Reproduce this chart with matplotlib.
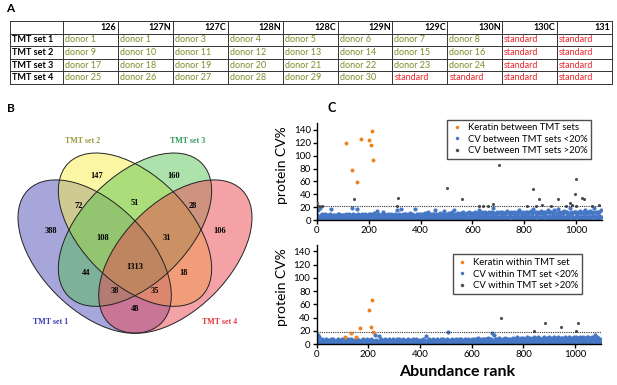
import numpy as np
import matplotlib.pyplot as plt
from matplotlib.patches import Ellipse
from matplotlib.lines import Line2D

plt.rcParams['font.family'] = ['Lato', 'DejaVu Sans']

# ---- panel A: TMT layout table ----
channels = ['126', '127N', '127C', '128N', '128C', '129N', '129C', '130N', '130C', '131']
tmt_sets = ['TMT set 1', 'TMT set 2', 'TMT set 3', 'TMT set 4']
samples = [
    ['donor 1', 'donor 1', 'donor 3', 'donor 4', 'donor 5', 'donor 6', 'donor 7', 'donor 8', 'standard', 'standard'],
    ['donor 9', 'donor 10', 'donor 11', 'donor 12', 'donor 13', 'donor 14', 'donor 15', 'donor 16', 'standard', 'standard'],
    ['donor 17', 'donor 18', 'donor 19', 'donor 20', 'donor 21', 'donor 22', 'donor 23', 'donor 24', 'standard', 'standard'],
    ['donor 25', 'donor 26', 'donor 27', 'donor 28', 'donor 29', 'donor 30', 'standard', 'standard', 'standard', 'standard'],
]

# ---- panel B: Venn counts ----
venn_counts = [147, 160, 72, 51, 28, 388, 108, 31, 106, 1313, 44, 18, 38, 35, 48]
venn_pos = [(0.359, 0.769), (0.645, 0.769), (0.292, 0.658), (0.5, 0.669), (0.716, 0.658),
            (0.188, 0.565), (0.381, 0.539), (0.619, 0.539), (0.816, 0.565), (0.5, 0.431),
            (0.318, 0.409), (0.682, 0.409), (0.426, 0.342), (0.574, 0.342), (0.5, 0.275)]

# ---- panel C / D: CV vs abundance rank ----
blue_step = 5
c_blue_low = [
    3, 1, 4, 2, 5, 2, 3, 1, 4, 2,  2, 4, 1, 3, 5, 2, 4, 3, 1, 2,
    4, 2, 3, 1, 2, 5, 3, 2, 4, 1,  3, 5, 2, 4, 1, 3, 2, 4, 3, 5,
    2, 3, 1, 4, 2, 5, 3, 1, 4, 2,  5, 2, 3, 4, 1, 3, 5, 2, 4, 3,
    1, 4, 2, 5, 3, 2, 4, 1, 3, 5,  2, 3, 5, 1, 4, 2, 3, 5, 2, 4,
    3, 1, 4, 2, 5, 3, 2, 4, 1, 3,  4, 2, 5, 3, 1, 4, 2, 5, 3, 2,
    2, 5, 3, 1, 4, 3, 5, 2, 4, 1,  3, 4, 2, 5, 3, 1, 4, 2, 5, 3,
    5, 2, 4, 3, 6, 2, 4, 5, 3, 2,  4, 3, 5, 2, 4, 6, 3, 5, 2, 4,
    3, 5, 2, 6, 4, 3, 5, 2, 4, 6,  5, 3, 4, 2, 6, 5, 3, 4, 6, 3,
    4, 6, 3, 5, 2, 4, 6, 3, 5, 4,  6, 3, 5, 4, 2, 6, 4, 5, 3, 6,
    3, 5, 6, 2, 4, 5, 3, 6, 4, 2,  5, 4, 2, 6, 3, 5, 6, 4, 2, 5,
    4, 6, 3, 5, 4, 2, 6, 5, 3, 4,  6, 3, 5, 4, 6, 3, 5, 2, 6, 4,
]
c_blue_high = [
    8, 15, 18, 7, 10, 6, 9, 8, 7, 8,  9, 17, 7, 8, 6, 7, 9, 10, 7, 8,
    8, 7, 9, 6, 8, 10, 7, 18, 9, 8,  7, 17, 9, 8, 7, 10, 7, 9, 8, 8,
    9, 8, 10, 7, 11, 8, 14, 9, 7, 8,  10, 13, 9, 8, 7, 9, 8, 10, 8, 7,
    9, 8, 16, 10, 7, 17, 9, 8, 10, 9,  8, 9, 11, 10, 7, 8, 17, 9, 8, 9,
    10, 8, 9, 11, 8, 10, 12, 9, 8, 10,  9, 16, 10, 8, 9, 11, 9, 10, 14, 8,
    10, 9, 11, 8, 12, 9, 16, 10, 8, 11,  9, 11, 10, 12, 10, 9, 11, 13, 10, 9,
    11, 10, 12, 9, 11, 15, 10, 12, 11, 10,  12, 10, 11, 13, 10, 12, 18, 11, 10, 12,
    11, 12, 10, 13, 11, 10, 12, 14, 11, 10,  12, 11, 13, 10, 12, 11, 15, 12, 10, 13,
    11, 13, 12, 10, 12, 14, 11, 17, 12, 11,  13, 11, 12, 14, 11, 12, 10, 13, 15, 12,
    12, 13, 11, 15, 12, 10, 17, 12, 11, 13,  11, 14, 12, 13, 10, 18, 12, 11, 13, 12,
    13, 11, 12, 14, 11, 13, 12, 16, 11, 13,  12, 14, 11, 13, 18, 12, 11, 13, 12, 15,
]
c_grey_rank = [0, 8, 18, 142, 310, 314, 501, 559, 625, 640, 660, 680, 704, 810, 833,
               845, 855, 870, 905, 932, 960, 975, 985, 996, 999, 1000, 1024, 1031, 1060, 1090]
c_grey_cv = [26, 22, 21, 32, 22, 34, 49, 32, 22, 21, 21, 25, 86, 22, 48,
             22, 32, 23, 21, 32, 22, 27, 24, 41, 63, 22, 34, 32, 21, 24]
c_keratin_rank = [111, 134, 153, 169, 201, 208, 214, 217]
c_keratin_cv = [119, 77, 59, 126, 124, 117, 138, 93]

d_blue_low = [
    2, 1, 3, 2, 4, 1, 2, 3, 1, 2,  3, 1, 2, 4, 2, 1, 3, 2, 4, 1,
    2, 3, 1, 2, 4, 3, 1, 2, 3, 2,  1, 3, 2, 4, 1, 2, 3, 1, 2, 4,
    3, 2, 1, 3, 2, 4, 1, 3, 2, 1,  2, 4, 3, 1, 2, 3, 4, 2, 1, 3,
    4, 2, 1, 3, 4, 2, 3, 1, 4, 2,  1, 3, 4, 2, 1, 3, 2, 4, 3, 1,
    3, 2, 4, 1, 3, 2, 4, 3, 1, 2,  2, 4, 1, 3, 2, 4, 3, 1, 2, 4,
    4, 1, 3, 2, 4, 1, 2, 4, 3, 2,  2, 3, 4, 1, 3, 4, 2, 3, 4, 1,
    3, 4, 2, 5, 3, 2, 4, 3, 5, 2,  4, 2, 5, 3, 4, 3, 5, 2, 4, 3,
    5, 3, 4, 2, 5, 4, 3, 5, 2, 4,  3, 5, 2, 4, 3, 5, 4, 2, 5, 3,
    4, 2, 5, 3, 5, 2, 4, 3, 5, 4,  2, 5, 3, 4, 2, 5, 3, 4, 5, 2,
    5, 3, 4, 5, 2, 4, 3, 5, 3, 4,  3, 4, 5, 2, 4, 3, 5, 4, 2, 5,
    4, 5, 3, 4, 5, 2, 4, 3, 5, 3,  5, 3, 4, 2, 5, 4, 3, 5, 4, 3,
]
d_blue_high = [
    6, 14, 10, 5, 7, 6, 4, 8, 5, 6,  5, 7, 6, 8, 5, 4, 6, 7, 5, 6,
    7, 5, 6, 4, 8, 5, 6, 7, 5, 6,  5, 7, 6, 5, 4, 6, 7, 5, 6, 8,
    6, 5, 7, 6, 5, 14, 6, 5, 12, 6,  7, 6, 5, 8, 6, 5, 7, 6, 5, 7,
    6, 5, 7, 6, 8, 5, 6, 7, 5, 6,  5, 7, 6, 5, 6, 7, 5, 8, 6, 5,
    6, 5, 7, 6, 5, 12, 6, 7, 5, 6,  7, 6, 5, 7, 6, 5, 8, 6, 7, 5,
    6, 7, 18, 6, 5, 7, 6, 5, 7, 6,  8, 6, 7, 5, 6, 8, 6, 7, 5, 6,
    7, 6, 8, 7, 6, 9, 7, 6, 8, 7,  8, 7, 6, 9, 7, 8, 17, 13, 7, 8,
    7, 9, 8, 6, 8, 7, 9, 8, 7, 6,  8, 7, 9, 8, 7, 10, 8, 7, 9, 8,
    9, 8, 7, 10, 8, 9, 7, 8, 10, 9,  8, 10, 9, 8, 7, 9, 10, 8, 9, 7,
    10, 8, 9, 7, 10, 8, 9, 11, 8, 9,  9, 7, 10, 9, 8, 10, 8, 9, 7, 10,
    8, 10, 9, 8, 11, 9, 10, 8, 9, 10,  10, 9, 8, 10, 9, 14, 8, 10, 9, 8,
]
d_grey_rank = [712, 842, 884, 945, 1004, 1013]
d_grey_cv = [39, 20, 31, 25, 19, 31]
d_keratin_rank = [110, 134, 152, 168, 204, 212, 216, 220]
d_keratin_cv = [10, 16, 10, 24, 52, 26, 66, 18]

c_threshold = 21
d_threshold = 18

BLUE = '#4677c4'
ORANGE = '#f0801e'
GREY = '#4d4d55'

fig = plt.figure(figsize=(6.17, 3.85), dpi=100)

# overlay in pixel coordinates for the table and panel letters
ov = fig.add_axes([0, 0, 1, 1])
ov.set_xlim(0, 617)
ov.set_ylim(385, 0)
ov.axis('off')

left, first_w = 10, 53
col_w = (612 - left - first_w) / len(channels)
top, row_h = 21, 12.6
xs = [left, left + first_w] + [left + first_w + col_w * (i + 1) for i in range(len(channels))]
ys = [top + row_h * i for i in range(len(tmt_sets) + 2)]
for x in xs:
    ov.plot([x, x], [ys[0], ys[-1]], color='#333333', lw=0.7)
for y in ys:
    ov.plot([xs[0], xs[-1]], [y, y], color='#333333', lw=0.7)

for j, ch in enumerate(channels):
    ov.text(xs[j + 2] - 1.5, ys[0] + row_h / 2, ch, ha='right', va='center',
            fontsize=6.5, weight='bold')
for i, name in enumerate(tmt_sets):
    yc = ys[i + 1] + row_h / 2
    ov.text(xs[0] + 2, yc, name, ha='left', va='center', fontsize=6.5, weight='bold')
    for j, s in enumerate(samples[i]):
        col = '#e8262b' if s == 'standard' else '#7c8f2a'
        ov.text(xs[j + 1] + 2, yc, s, ha='left', va='center', fontsize=6.5, color=col)

ov.text(10, 8, 'A', fontsize=8.5, weight='bold', ha='center', va='center')
ov.text(11, 108, 'B', fontsize=8.5, weight='bold', ha='center', va='center')
ov.text(332, 108, 'C', fontsize=9, weight='bold', ha='center', va='center')
ov.text(332, 251, 'D', fontsize=9, weight='bold', ha='center', va='center')
ov.text(457, 372, 'Abundance rank', fontsize=11.5, weight='bold', ha='center', va='center')

# ---- Venn ----
axv = fig.add_axes([0.5 / 617, 2 / 385, 269 / 617, 269 / 385])
axv.set_xlim(0, 1)
axv.set_ylim(0, 1)
axv.set_aspect('equal')
axv.axis('off')

ell = [((0.35, 0.47), -45, '#3a3ab0', 0.45), ((0.5, 0.57), -45, '#f7ee48', 0.5),
       ((0.5, 0.57), 45, '#4cc04a', 0.45), ((0.65, 0.47), 45, '#ec4650', 0.5)]
for c, ang, colr, a in ell:
    axv.add_patch(Ellipse(c, 0.70, 0.40, angle=ang, facecolor=colr, alpha=a, lw=0))
for c, ang, colr, a in ell:
    axv.add_patch(Ellipse(c, 0.70, 0.40, angle=ang, fill=False, edgecolor='#222222', lw=0.7))

for n, (u, v) in zip(venn_counts, venn_pos):
    axv.text(u, v, str(n), ha='center', va='center', fontsize=6,
             weight='bold', family='Liberation Serif')

set_labels = [('TMT set 1', 0.188, 0.227, '#3c3cb4'), ('TMT set 2', 0.307, 0.900, '#9c9a3c'),
              ('TMT set 3', 0.697, 0.900, '#2f9a5e'), ('TMT set 4', 0.816, 0.227, '#e33a42')]
for t, u, v, colr in set_labels:
    axv.text(u, v, t, ha='center', va='center', fontsize=5.8, weight='bold',
             color=colr, family='Liberation Serif')


# ---- scatter panels ----
def cv_panel(rect, low, high, grey_r, grey_v, ker_r, ker_v, thr, names, legend_anchor):
    ax = fig.add_axes(rect)
    rank = np.arange(len(low)) * blue_step
    ax.scatter(rank, low, s=10, color=BLUE, lw=0, zorder=2)
    ax.scatter(rank, high, s=9, color=BLUE, lw=0, zorder=2)
    ax.scatter(grey_r, grey_v, s=5, color=GREY, lw=0, zorder=3)
    ax.scatter(ker_r, ker_v, s=8, color=ORANGE, lw=0, zorder=4)
    ax.axhline(thr, color='#333333', lw=0.8, ls=(0, (1, 1)), zorder=3)
    ax.set_xlim(0, 1100)
    ax.set_ylim(0, 150)
    ax.set_xticks(range(0, 1001, 200))
    ax.set_yticks(range(0, 141, 20))
    for side in ('top', 'right'):
        ax.spines[side].set_visible(False)
    for side in ('left', 'bottom'):
        ax.spines[side].set_linewidth(1.0)
    ax.tick_params(direction='out', length=3, width=1, labelsize=7, pad=1.5)
    ax.set_ylabel('protein CV%', fontsize=10)
    ax.yaxis.set_label_coords(-0.1, 0.57)
    handles = [Line2D([], [], ls='', marker='o', ms=2.5, mec='none', mfc=col)
               for col in (ORANGE, BLUE, GREY)]
    leg = ax.legend(handles, names, loc='upper right', bbox_to_anchor=legend_anchor,
                    fontsize=6.8, frameon=True, fancybox=False, handletextpad=0.6,
                    handlelength=1.2, borderpad=0.4, labelspacing=0.25)
    leg.get_frame().set_edgecolor('#222222')
    leg.get_frame().set_linewidth(1.0)
    return ax


cv_panel([317 / 617, 165 / 385, 285 / 617, 96.5 / 385], c_blue_low, c_blue_high,
         c_grey_rank, c_grey_cv, c_keratin_rank, c_keratin_cv, c_threshold,
         ['Keratin between TMT sets', 'CV between TMT sets <20%', 'CV between TMT sets >20%'],
         (0.979, 1.09))
cv_panel([316.5 / 617, 41 / 385, 284.5 / 617, 99.3 / 385], d_blue_low, d_blue_high,
         d_grey_rank, d_grey_cv, d_keratin_rank, d_keratin_cv, d_threshold,
         ['Keratin within TMT set', 'CV within TMT set <20%', 'CV within TMT set >20%'],
         (0.951, 0.95))

fig.savefig('out.png', dpi=100)
